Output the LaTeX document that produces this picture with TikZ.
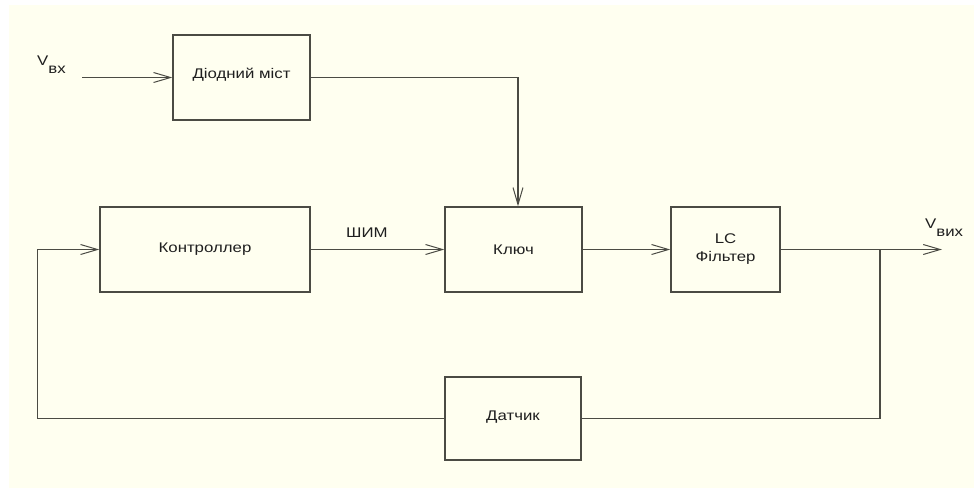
\documentclass[tikz,border=0pt]{standalone}
\usepackage{fontspec}
\setmainfont{Liberation Sans}[FakeStretch=1.2]
\usetikzlibrary{arrows.meta}
\definecolor{bgc}{RGB}{255,255,240}
\definecolor{lnc}{RGB}{75,75,68}
\begin{document}
\begin{tikzpicture}[x=1pt,y=-1pt,
  box/.style={draw=lnc, line width=1.4pt, minimum width=#1, minimum height=85pt, inner sep=0pt, align=center, text=black!88, font=\fontsize{14}{18}\selectfont},
  wire/.style={draw=lnc, line width=1.4pt},
  arr/.style={wire, -{Straight Barb[length=17pt,width=10pt,line width=1pt]}},
  lbl/.style={inner sep=0pt, text=black!88, font=\fontsize{14}{17}\selectfont}]
\useasboundingbox (0,0) rectangle (974,488);
\fill[bgc] (9,5) rectangle (974,488);
% boxes
\node[box=137pt] (diod) at (241.5,77.5) {\raisebox{9pt}{Діодний міст}};
\node[box=210pt] (kontr) at (205,249.5) {Контроллер};
\node[box=137pt] (kl) at (513.5,249.5) {Ключ};
\node[box=109pt] (lc) at (725.5,249.5) {LC\\Фільтер};
\node[box=136pt, minimum height=83pt] (dat) at (513,418.5) {\raisebox{6pt}{Датчик}};
% labels
\node[lbl, anchor=base west] (vbx) at (37,65) {V\raisebox{-8pt}{вх}};
\node[lbl, anchor=base west] (vvyh) at (925,228) {V\raisebox{-8pt}{вих}};
\node[lbl, anchor=base west] (shim) at (346,237) {ШИМ};
% free ends
\coordinate (vin) at (82,77.5);
\coordinate (vout) at (942,249.5);
\coordinate (junc) at (880,249.5);
% connectors
\draw[arr] (vin) -- (diod.west);
\draw[arr] (diod.east) -| ([xshift=4.5pt]kl.north);
\draw[arr] (kontr.east) -- (kl.west);
\draw[arr] (kl.east) -- (lc.west);
\draw[arr] (lc.east) -- (vout);
\draw[wire] (junc) |- (dat.east);
\draw[arr] (dat.west) -| ([xshift=-62pt]kontr.west) -- (kontr.west);
\end{tikzpicture}
\end{document}
